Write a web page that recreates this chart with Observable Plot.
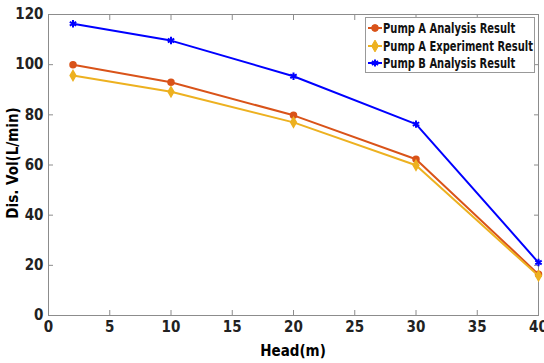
<!DOCTYPE html>
<html>
<head>
<meta charset="utf-8">
<script src="https://cdn.jsdelivr.net/npm/d3@7"></script>
<script src="https://cdn.jsdelivr.net/npm/@observablehq/plot@0.6"></script>
<style>
  html, body { margin: 0; padding: 0; background: #fff; }
  #wrap { position: relative; width: 544px; height: 363px; font-family: "DejaVu Sans Condensed", "Liberation Sans Narrow", "Liberation Sans", sans-serif; font-weight: bold; }
  #legend { position: absolute; left: 365px; top: 17px; width: 170px; height: 56px; border: 1px solid #999; background: #fff; box-sizing: border-box; font-size: 14px; color: #111; overflow: hidden; }
  .row { position: absolute; left: 1px; height: 18px; display: flex; align-items: center; white-space: nowrap; }
  .row span { display: inline-block; transform-origin: 0 50%; }
</style>
</head>
<body>
<div id="wrap"></div>
<script>
const head = [2, 10, 20, 30, 40];
const pumpAAnalysis = [100, 93, 79.8, 62.3, 16.4];
const pumpAExperiment = [95.7, 89.2, 77, 59.9, 15.8];
const pumpBAnalysis = [116.3, 109.6, 95.4, 76.3, 21.1];
const seriesNames = ["Pump A Analysis Result", "Pump A Experiment Result", "Pump B Analysis Result"];
const seriesColors = ["#D95319", "#EDB120", "#0000FF"];
const seriesSymbols = ["circle", "diamond", "asterisk"];
const xTicks = [0, 5, 10, 15, 20, 25, 30, 35, 40];
const yTicks = [0, 20, 40, 60, 80, 100, 120];

const seriesValues = [pumpAAnalysis, pumpAExperiment, pumpBAnalysis];
const data = seriesNames.flatMap((s, i) => head.map((h, j) => ({series: s, head: h, vol: seriesValues[i][j]})));

const axisColor = "#8c8c8c";
const fontFamily = '"DejaVu Sans Condensed", "Liberation Sans Narrow", "Liberation Sans", sans-serif';

const marks = [
  Plot.frame({stroke: axisColor, strokeWidth: 1}),
  Plot.axisX(xTicks, {anchor: "bottom", tickSize: -5, tickPadding: 11, stroke: axisColor, fill: "#222", label: null}),
  Plot.axisX(xTicks, {anchor: "top", tickSize: -5, tickFormat: () => "", stroke: axisColor, label: null}),
  Plot.axisY(yTicks, {anchor: "left", tickSize: -5, tickPadding: 10, stroke: axisColor, fill: "#222", label: null}),
  Plot.axisY(yTicks, {anchor: "right", tickSize: -5, tickFormat: () => "", stroke: axisColor, label: null}),
];
seriesNames.forEach((s, i) => {
  const d = data.filter(r => r.series === s);
  marks.push(Plot.line(d, {x: "head", y: "vol", stroke: seriesColors[i], strokeWidth: 2}));
  if (seriesSymbols[i] === "asterisk") {
    marks.push(Plot.dot(d, {x: "head", y: "vol", symbol: "asterisk", stroke: seriesColors[i], strokeWidth: 2, r: 3.5}));
  } else {
    marks.push(Plot.dot(d, {x: "head", y: "vol", symbol: seriesSymbols[i], fill: seriesColors[i], stroke: seriesColors[i], r: 3}));
  }
});

const chart = Plot.plot({
  width: 544,
  height: 363,
  marginLeft: 48,
  marginRight: 6,
  marginTop: 14,
  marginBottom: 48,
  style: {fontFamily, fontSize: "15px", fontWeight: "bold", background: "#fff", color: "#222"},
  x: {domain: [0, 40]},
  y: {domain: [0, 120]},
  marks
});

const wrap = document.getElementById("wrap");
wrap.appendChild(chart);

const xl = document.createElement("div");
xl.textContent = "Head(m)";
Object.assign(xl.style, {position: "absolute", left: "0px", width: "586px", top: "342px", textAlign: "center", fontSize: "15px"});
wrap.appendChild(xl);
const yl = document.createElement("div");
yl.textContent = "Dis. Vol(L/min)";
Object.assign(yl.style, {position: "absolute", left: "13px", top: "163px", transform: "translate(-50%,-50%) rotate(-90deg)", fontSize: "15px", whiteSpace: "nowrap"});
wrap.appendChild(yl);

const lg = document.createElement("div");
lg.id = "legend";
const symMap = {circle: d3.symbolCircle, diamond: d3.symbolDiamond, asterisk: d3.symbolAsterisk};
const spans = [];
seriesNames.forEach((s, i) => {
  const row = document.createElement("div");
  row.className = "row";
  row.style.top = (i * 17.5 + 1) + "px";
  const path = d3.symbol(symMap[seriesSymbols[i]], seriesSymbols[i] === "diamond" ? 40 : 36)();
  const filled = seriesSymbols[i] !== "asterisk";
  row.innerHTML = `<svg width="16" height="12"><line x1="1" x2="15" y1="6" y2="6" stroke="${seriesColors[i]}" stroke-width="2"/><path transform="translate(8,6)" d="${path}" fill="${filled ? seriesColors[i] : "none"}" stroke="${seriesColors[i]}" stroke-width="${filled ? 1 : 2}"/></svg><span>${s}</span>`;
  lg.appendChild(row);
  spans.push(row.querySelector("span"));
});
wrap.appendChild(lg);
const maxW = Math.max(...spans.map(sp => sp.getBoundingClientRect().width));
const k = Math.min(1, 150 / maxW);
spans.forEach(sp => { sp.style.transform = `scaleX(${k})`; });
</script>
</body>
</html>
